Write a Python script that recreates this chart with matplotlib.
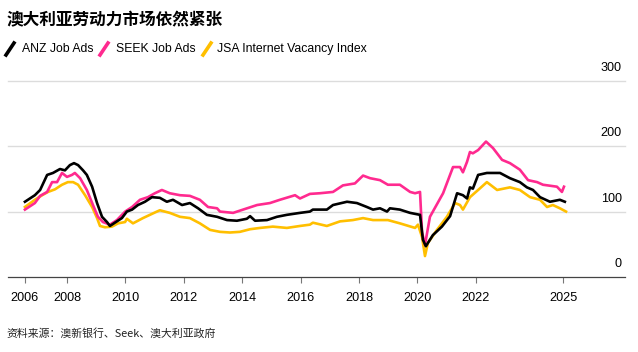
import matplotlib
matplotlib.use("Agg")
import matplotlib.pyplot as plt
from matplotlib import font_manager
from matplotlib.lines import Line2D

# values (decimal years, index level)
anz_years = [2006.56, 2006.90, 2007.08, 2007.32, 2007.52, 2007.76, 2007.93, 2008.10, 2008.24,
             2008.38, 2008.55, 2008.68, 2008.86, 2009.03, 2009.20, 2009.37, 2009.47, 2009.64,
             2009.88, 2010.05, 2010.23, 2010.43, 2010.67, 2010.91, 2011.18, 2011.42, 2011.63,
             2011.94, 2012.21, 2012.49, 2012.79, 2013.14, 2013.48, 2013.82, 2014.16, 2014.27,
             2014.44, 2014.85, 2015.19, 2015.53, 2015.98, 2016.32, 2016.42, 2016.90, 2017.11,
             2017.59, 2017.93, 2018.27, 2018.48, 2018.72, 2018.96, 2019.06, 2019.40, 2019.75,
             2020.09, 2020.19, 2020.29, 2020.53, 2020.84, 2021.12, 2021.36, 2021.56, 2021.70,
             2021.80, 2021.90, 2022.08, 2022.38, 2022.83, 2023.17, 2023.51, 2023.75, 2023.96,
             2024.20, 2024.54, 2024.88, 2025.05]
anz_values = [115, 125, 133, 156, 159, 165, 163, 171, 174,
              171, 163, 156, 138, 113, 92, 84, 78, 83,
              90, 100, 103, 110, 115, 122, 121, 115, 118,
              110, 113, 105, 95, 92, 87, 86, 89, 93,
              86, 87, 92, 95, 98, 100, 103, 103, 110,
              115, 113, 107, 103, 105, 100, 105, 103, 98,
              95, 57, 47, 64, 77, 93, 128, 125, 120,
              137, 135, 156, 159, 159, 151, 145, 137, 133,
              122, 115, 118, 115]

seek_years = [2006.56, 2006.90, 2007.08, 2007.32, 2007.49, 2007.66, 2007.83, 2008.00, 2008.17,
              2008.27, 2008.45, 2008.68, 2008.89, 2009.06, 2009.23, 2009.47, 2009.71, 2009.99,
              2010.23, 2010.50, 2010.77, 2011.01, 2011.25, 2011.52, 2011.87, 2012.21, 2012.55,
              2012.83, 2013.14, 2013.24, 2013.69, 2014.03, 2014.51, 2014.95, 2015.29, 2015.81,
              2015.98, 2016.32, 2016.66, 2017.11, 2017.45, 2017.86, 2018.14, 2018.38, 2018.72,
              2018.99, 2019.40, 2019.75, 2019.92, 2020.09, 2020.16, 2020.26, 2020.43, 2020.53,
              2020.88, 2021.22, 2021.46, 2021.56, 2021.70, 2021.80, 2021.90, 2022.08, 2022.35,
              2022.59, 2022.90, 2023.17, 2023.51, 2023.79, 2024.10, 2024.30, 2024.78, 2024.95,
              2025.02]
seek_values = [103, 113, 124, 130, 145, 145, 159, 153, 156,
               159, 151, 133, 110, 92, 84, 80, 87, 100,
               107, 118, 122, 128, 133, 128, 125, 124, 118,
               107, 105, 100, 98, 103, 110, 113, 118, 125,
               120, 127, 128, 130, 140, 143, 155, 151, 148,
               141, 141, 130, 128, 130, 68, 49, 92, 100,
               128, 168, 168, 160, 176, 191, 189, 194, 207,
               197, 179, 174, 164, 148, 145, 141, 138, 130,
               138]

jsa_years = [2006.56, 2006.90, 2007.15, 2007.35, 2007.59, 2007.83, 2008.03, 2008.21, 2008.38,
             2008.62, 2008.86, 2009.03, 2009.13, 2009.30, 2009.54, 2009.75, 2009.99, 2010.05,
             2010.26, 2010.60, 2011.08, 2011.18, 2011.52, 2011.87, 2012.21, 2012.55, 2012.90,
             2013.24, 2013.58, 2013.92, 2014.27, 2014.61, 2015.05, 2015.53, 2015.98, 2016.32,
             2016.42, 2016.90, 2017.35, 2017.79, 2018.14, 2018.48, 2018.99, 2019.40, 2019.92,
             2020.02, 2020.16, 2020.26, 2020.36, 2020.67, 2021.01, 2021.29, 2021.46, 2021.56,
             2021.80, 2022.08, 2022.38, 2022.73, 2023.17, 2023.51, 2023.86, 2024.20, 2024.44,
             2024.64, 2024.88, 2025.09]
jsa_values = [107, 118, 125, 130, 134, 141, 145, 145, 141,
              125, 107, 90, 78, 76, 77, 82, 84, 89,
              82, 90, 100, 102, 98, 92, 90, 82, 72,
              69, 68, 69, 73, 75, 77, 75, 78, 80,
              83, 78, 85, 87, 90, 87, 87, 82, 75,
              80, 61, 32, 52, 72, 92, 113, 110, 103,
              122, 133, 145, 133, 137, 133, 122, 118, 107,
              110, 105, 100]

tick_years = [2006.56, 2008, 2010, 2012, 2014, 2016, 2018, 2020, 2022, 2025]
tick_labels = ["2006", "2008", "2010", "2012", "2014", "2016", "2018", "2020", "2022", "2025"]
y_levels = [0, 100, 200, 300]

series_names = ["ANZ Job Ads", "SEEK Job Ads", "JSA Internet Vacancy Index"]
series_colors = ["#000000", "#ff2a8f", "#ffbf00"]

title = "澳大利亚劳动力市场依然紧张"
source = "资料来源：澳新银行、Seek、澳大利亚政府"

W, H = 638, 352
names = {f.name for f in font_manager.fontManager.ttflist}
if "Liberation Sans Narrow" in names:
    latin, fsize = "Liberation Sans Narrow", 10.5
else:
    latin, fsize = "Liberation Sans", 8.8
plt.rcParams["font.family"] = [latin, "DejaVu Sans"]
cjk = ["Noto Sans CJK SC", "DejaVu Sans"]


def px(x, y):
    return x / W, 1 - y / H


fig = plt.figure(figsize=(W / 100, H / 100), dpi=100)
ax = fig.add_axes([8 / W, 75 / H, 617 / W, 196.3 / H])
ax.set_xlim(2005.98, 2027.11)
ax.set_ylim(0, 300)

for v in y_levels[1:]:
    ax.axhline(v, color="#dcdcdc", lw=1.0, clip_on=False, zorder=0)

ax.plot(jsa_years, jsa_values, color=series_colors[2], lw=1.9, solid_joinstyle="round", zorder=2)
ax.plot(seek_years, seek_values, color=series_colors[1], lw=1.9, solid_joinstyle="round", zorder=3)
ax.plot(anz_years, anz_values, color=series_colors[0], lw=1.9, solid_joinstyle="round", zorder=4)

for side in ["top", "left", "right"]:
    ax.spines[side].set_visible(False)
ax.spines["bottom"].set_color("#444444")
ax.spines["bottom"].set_linewidth(0.9)
ax.set_yticks([])
ax.set_xticks(tick_years)
ax.set_xticklabels(tick_labels)
ax.tick_params(axis="x", length=4, width=0.8, color="#777777", pad=7, labelsize=fsize + 0.3)

for v in y_levels:
    ax.annotate(str(v), xy=(0.995, v), xycoords=ax.get_yaxis_transform(),
                xytext=(0, 5), textcoords="offset points",
                ha="right", va="bottom", fontsize=fsize + 0.3)

fig.text(*px(7, 20), title, family=cjk, fontsize=12, fontweight="bold", va="center")

# legend row: slanted strokes + labels
icon_x = [6, 100, 203]
text_x = [22, 116, 217]
for name, color, ix, tx in zip(series_names, series_colors, icon_x, text_x):
    x0, y0 = px(ix, 55)
    x1, y1 = px(ix + 8, 43)
    fig.add_artist(Line2D([x0, x1], [y0, y1], color=color, lw=2.6, transform=fig.transFigure))
    fig.text(*px(tx, 49), name, fontsize=fsize, va="center")

fig.text(*px(6, 333), source, family=cjk, fontsize=7.8, va="center", color="#222222")

fig.savefig("out.png", dpi=100)
